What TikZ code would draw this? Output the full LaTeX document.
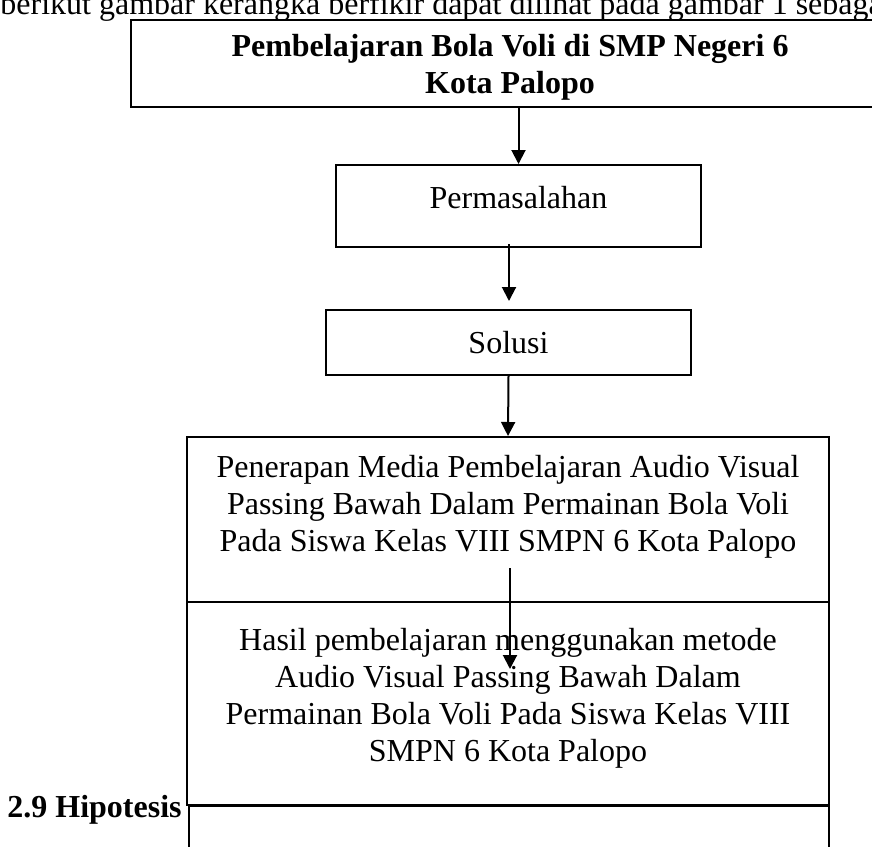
\documentclass[tikz,border=0pt]{standalone}
\usepackage{fontspec}
\setmainfont{Liberation Serif}
\usetikzlibrary{calc, arrows.meta}
\tikzset{
    kotak/.style={draw,fill=white,line width=1pt,inner sep=0pt,align=center},
    panah/.style={line width=1pt,-{Triangle[length=7pt,width=7pt]}},
}

\begin{document}
\begin{tikzpicture}[x=0.5pt,y=-0.5pt,font=\fontsize{16}{18.5}\selectfont]
            \useasboundingbox (0,0) rectangle (872,846);
            \node[anchor=base west,inner sep=0pt] (kalimat) at (0,14){berikut gambar kerangka berfikir dapat dilihat pada gambar 1 sebagai berikut:};
            \node[kotak,minimum width=379pt,minimum height=43.5pt,text depth=-1.5pt] (judul) at (510,63.5){\bfseries Pembelajaran Bola Voli di SMP Negeri 6\\ \bfseries Kota Palopo};
            \node[kotak,minimum width=182.5pt,minimum height=41pt,text depth=9pt] (masalah) at (518.5,206){Permasalahan};
            \node[kotak,minimum width=182.5pt,minimum height=32.5pt] (solusi) at (508.5,342.5){Solusi};
            \node[kotak,minimum width=321pt,minimum height=82.5pt,text depth=16.5pt] (penerapan) at (508,519.5){Penerapan Media Pembelajaran Audio Visual\\ Passing Bawah Dalam Permainan Bola Voli\\ Pada Siswa Kelas VIII SMPN 6 Kota Palopo};
            \node[kotak,minimum width=321pt,minimum height=101.5pt,text depth=8.5pt] (hasil) at (508,703.5){Hasil pembelajaran menggunakan metode\\ Audio Visual Passing Bawah Dalam\\ Permainan Bola Voli Pada Siswa Kelas VIII\\ SMPN 6 Kota Palopo};
            \node[kotak,anchor=north,minimum width=320pt,minimum height=50pt] (hipotesis) at (509,805){};
            \node[anchor=east,inner sep=0pt,font=\fontsize{16}{18.5}\selectfont\bfseries] (subbab) at (182,810){2.9 Hipotesis};
            % titik ujung panah
            \coordinate (m1) at ($(masalah.south)+(-9.5,-4)$);
            \coordinate (s1) at ($(solusi.north)+(0.5,-8)$);
            \coordinate (p1) at ($(penerapan.south)+(2,-35)$);
            \coordinate (h1) at ($(hasil.north)+(2,68)$);
            \draw[panah] (masalah.north |- judul.south)--(masalah.north);
            \draw[panah] (m1)--(s1);
            \draw[panah] (solusi.south)--(penerapan.north);
            \draw[panah] (p1)--(h1);
        \end{tikzpicture}
\end{document}
